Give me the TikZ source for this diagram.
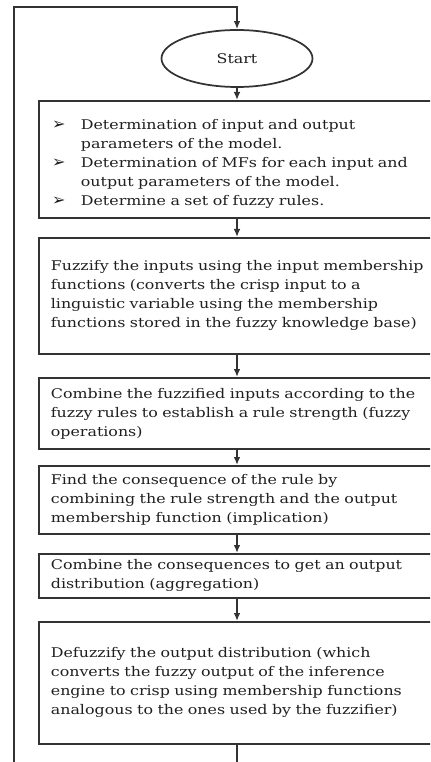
\documentclass[tikz,border=0pt]{standalone}
\usepackage{fontspec}
\setmainfont[FakeStretch=1.19]{DejaVu Serif}
\newfontfamily\symfont{DejaVu Sans}
\usetikzlibrary{shapes.geometric,arrows.meta}
\newcommand{\bitem}[1]{\par\hangindent=22.5pt\hangafter=1\noindent\makebox[22.5pt][l]{\hspace{1pt}{\symfont\fontsize{12}{14.25}\selectfont ➢}}#1}
\tikzset{
  txt/.style={font=\fontsize{10}{14.25}\selectfont, text=black!88},
  stepbox/.style={draw=black!80, line width=1.3pt, rectangle, anchor=north west,
    text width=306pt, inner xsep=9pt, inner ysep=0pt, align=left, txt},
  link/.style={draw=black!80, line width=1.3pt},
  arr/.style={link, -{Latex[length=6pt,width=5pt]}},
}
\begin{document}
\begin{tikzpicture}[x=0.75pt,y=-0.75pt]
\useasboundingbox (0,0) rectangle (430,762);
\clip (0,0) rectangle (430,762);
\node[ellipse, draw=black!80, line width=1.3pt, minimum width=113.25pt, minimum height=42.75pt, inner sep=0pt, txt] (start) at (237,58.5) {Start};
\node[stepbox, minimum height=87.75pt] (b1) at (38,100) {%
\bitem{Determination of input and output\newline parameters of the model.}
\bitem{Determination of MFs for each input and\newline output parameters of the model.}
\bitem{Determine a set of fuzzy rules.}};
\node[stepbox, minimum height=87pt] (b2) at (38,237) {Fuzzify the inputs using the input membership\\ functions (converts the crisp input to a\\ linguistic variable using the membership\\ functions stored in the fuzzy knowledge base)};
\node[stepbox, minimum height=53.25pt] (b3) at (38,377) {Combine the fuzzified inputs according to the\\ fuzzy rules to establish a rule strength (fuzzy\\ operations)};
\node[stepbox, minimum height=51pt] (b4) at (38,465) {Find the consequence of the rule by\\ combining the rule strength and the output\\ membership function (implication)};
\node[stepbox, minimum height=33pt] (b5) at (38,553) {Combine the consequences to get an output\\ distribution (aggregation)};
\node[stepbox, minimum height=91.5pt] (b6) at (38,621) {Defuzzify the output distribution (which\\ converts the fuzzy output of the inference\\ engine to crisp using membership functions\\ analogous to the ones used by the fuzzifier)};
\coordinate (lb) at (14,780);
\coordinate (lt) at (14,7);
\draw[arr] (start.south) -- (start |- b1.north);
\draw[arr] (start |- b1.south) -- (start |- b2.north);
\draw[arr] (start |- b2.south) -- (start |- b3.north);
\draw[arr] (start |- b3.south) -- (start |- b4.north);
\draw[arr] (start |- b4.south) -- (start |- b5.north);
\draw[arr] (start |- b5.south) -- (start |- b6.north);
\draw[arr] (start |- b6.south) -- (start |- lb) -- (lb) -- (lt) -- (start |- lt) -- (start.north);
\end{tikzpicture}
\end{document}
